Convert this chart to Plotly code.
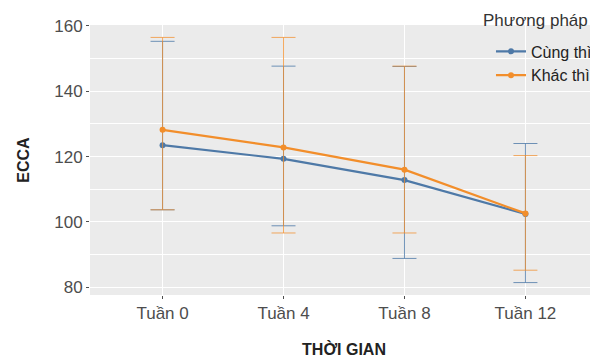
import plotly.graph_objects as go

categories = ["Tuần 0", "Tuần 4", "Tuần 8", "Tuần 12"]
cung_mean = [123.5, 119.3, 112.8, 102.4]
cung_upper = [155.3, 147.7, 147.6, 124.0]
cung_lower = [103.7, 98.8, 88.8, 81.4]
khac_mean = [128.2, 122.8, 116.0, 102.6]
khac_upper = [156.5, 156.5, 147.7, 120.3]
khac_lower = [103.7, 96.6, 96.6, 85.2]

blue = "#4E79A7"
orange = "#F28E2B"

def trace(name, mean, up, lo, color, ecolor):
    return go.Scatter(
        x=categories, y=mean, name=name, mode="lines+markers",
        line=dict(color=color, width=2.2),
        marker=dict(color=color, size=6),
        error_y=dict(type="data", symmetric=False,
                     array=[u - m for u, m in zip(up, mean)],
                     arrayminus=[m - l for m, l in zip(mean, lo)],
                     color=ecolor, thickness=1, width=12),
    )

fig = go.Figure()
fig.add_trace(trace("Cùng thì", cung_mean, cung_upper, cung_lower, blue, "rgba(78,121,167,0.8)"))
fig.add_trace(trace("Khác thì", khac_mean, khac_upper, khac_lower, orange, "rgba(242,142,43,0.75)"))

# page body has an 8px margin; the figure is sized so that the page is filled exactly
fig.update_layout(
    width=590, height=350,
    margin=dict(l=82, r=0, t=17, b=63, autoexpand=False),
    paper_bgcolor="white", plot_bgcolor="#EBEBEB",
    font=dict(family="Liberation Sans, Arial, sans-serif", size=17, color="#4D4D4D"),
    legend=dict(
        x=0.998, xanchor="right", y=0.965, yanchor="top",
        bgcolor="rgba(0,0,0,0)", font=dict(size=16, color="#222222"),
        tracegroupgap=0, itemwidth=30,
    ),
    showlegend=True,
    annotations=[dict(text="Phương pháp", xref="paper", yref="paper",
                      x=0.984, y=1.015, xanchor="right", yanchor="middle",
                      showarrow=False, font=dict(size=17, color="#333333"))],
)
fig.update_xaxes(
    type="category", range=[-0.6, 3.6], automargin=False,
    showgrid=True, gridcolor="white", gridwidth=1,
    ticks="outside", ticklen=3, tickcolor="#4D4D4D",
    title=dict(text="<b>THỜI GIAN</b>", font=dict(size=16, color="#222222"), standoff=23),
    zeroline=False,
)
fig.update_yaxes(
    range=[77.6, 160.3], tickvals=[80, 100, 120, 140, 160], automargin=False,
    showgrid=True, gridcolor="white", gridwidth=1,
    minor=dict(tickvals=[90, 110, 130, 150], showgrid=True, gridcolor="white", gridwidth=0.5, ticks=""),
    ticks="outside", ticklen=3, tickcolor="#4D4D4D",
    title=dict(text="<b>ECCA</b>", font=dict(size=16, color="#222222"), standoff=20),
    zeroline=False,
)

fig.write_html("out.html")
